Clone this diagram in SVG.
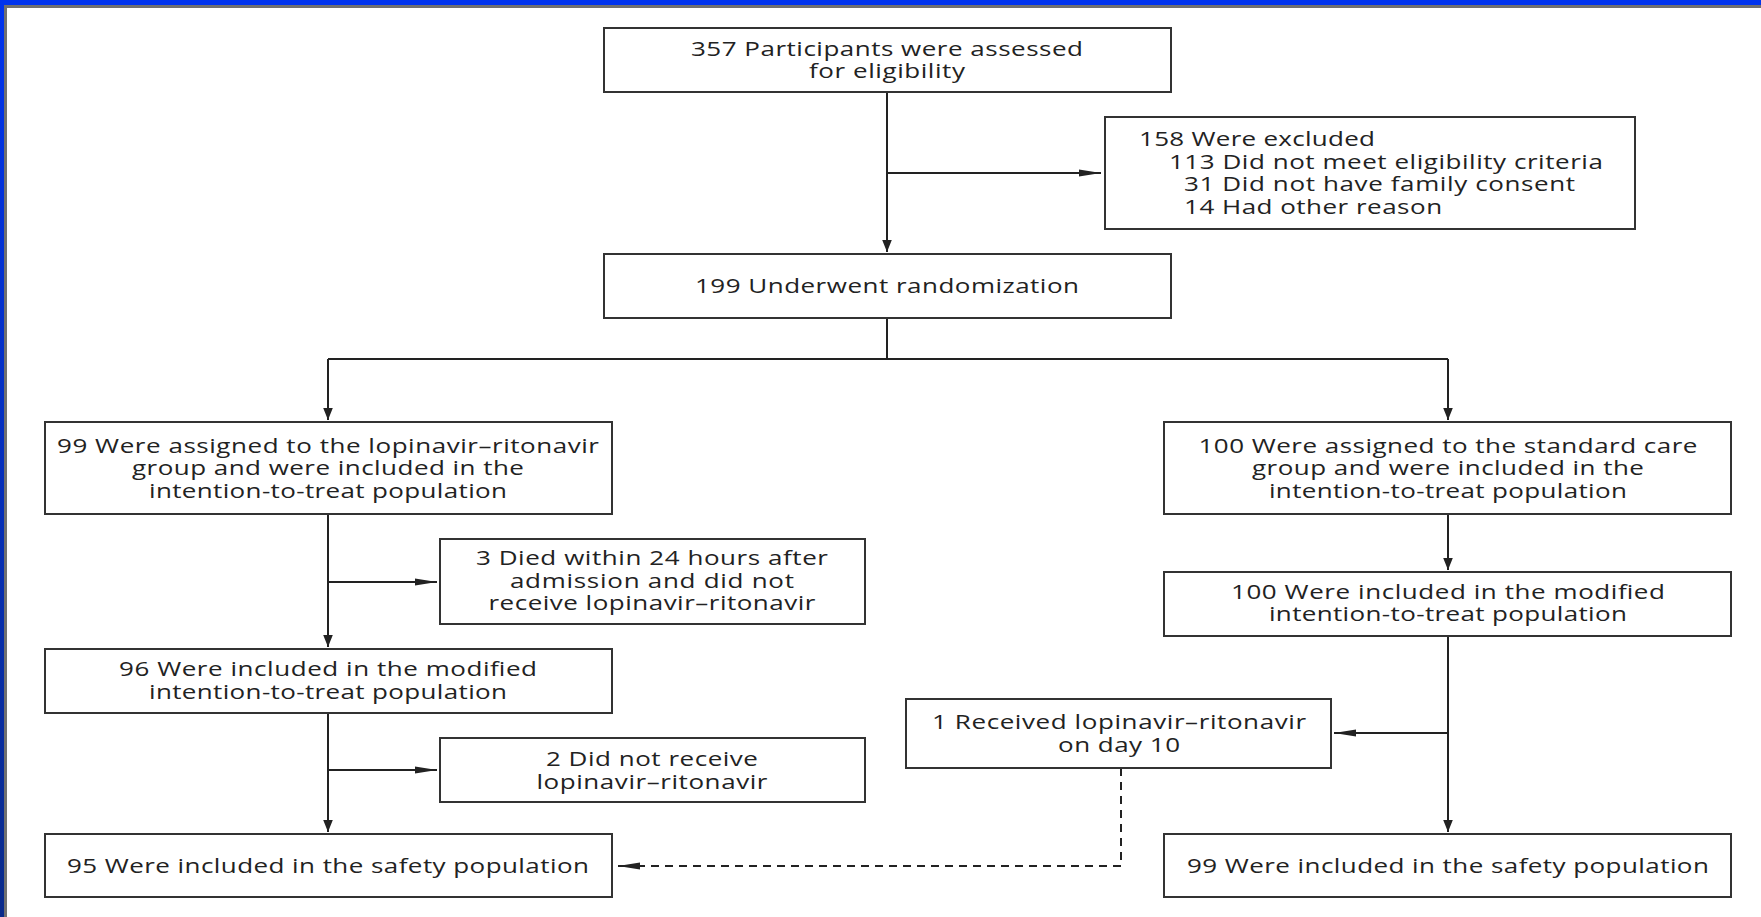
<svg xmlns="http://www.w3.org/2000/svg" width="1761" height="917" viewBox="0 0 1761 917">
<defs>
<style>
.box{fill:#fff;stroke:#333;stroke-width:2}
.t{font-family:"Open Sans","Noto Sans","Liberation Sans",sans-serif;font-size:20px;fill:#222}
.c{text-anchor:middle}
.ln{fill:none;stroke:#222;stroke-width:2}
.dash{fill:none;stroke:#222;stroke-width:2;stroke-dasharray:8,6}
</style>
<marker id="ah" viewBox="0 0 10 10" refX="10" refY="5" markerWidth="12" markerHeight="12" markerUnits="userSpaceOnUse" orient="auto"><path d="M0,1 L10,5 L0,9 z" fill="#222"/></marker>
<marker id="ah2" viewBox="0 0 10 10" refX="10" refY="5" markerWidth="22" markerHeight="10" markerUnits="userSpaceOnUse" orient="auto" preserveAspectRatio="none"><path d="M0,1.5 L10,5 L0,8.5 z" fill="#222"/></marker>
<linearGradient id="lb" x1="0" y1="0" x2="0" y2="1"><stop offset="0" stop-color="#0033ee"/><stop offset="1" stop-color="#0a2a8a"/></linearGradient>
</defs>
<rect x="0" y="0" width="1761" height="917" fill="#fff"/>
<rect x="0" y="5" width="1761" height="3" fill="#707070"/>
<rect x="4" y="5" width="3" height="912" fill="#707070"/>
<rect x="0" y="0" width="1761" height="5" fill="#0033ee"/>
<rect x="0" y="0" width="4" height="917" fill="url(#lb)"/>
<g id="connectors">
<line class="ln" x1="887" y1="92" x2="887" y2="252" marker-end="url(#ah)"/>
<line class="ln" x1="887" y1="173" x2="1101" y2="173" marker-end="url(#ah2)"/>
<polyline class="ln" points="887,318 887,359"/>
<polyline class="ln" points="328,359 1448,359"/>
<line class="ln" x1="328" y1="359" x2="328" y2="420" marker-end="url(#ah)"/>
<line class="ln" x1="1448" y1="359" x2="1448" y2="420" marker-end="url(#ah)"/>
<line class="ln" x1="328" y1="514" x2="328" y2="647" marker-end="url(#ah)"/>
<line class="ln" x1="328" y1="582" x2="437" y2="582" marker-end="url(#ah2)"/>
<line class="ln" x1="328" y1="713" x2="328" y2="832" marker-end="url(#ah)"/>
<line class="ln" x1="328" y1="770" x2="437" y2="770" marker-end="url(#ah2)"/>
<line class="ln" x1="1448" y1="514" x2="1448" y2="570" marker-end="url(#ah)"/>
<line class="ln" x1="1448" y1="636" x2="1448" y2="832" marker-end="url(#ah)"/>
<line class="ln" x1="1448" y1="733" x2="1334" y2="733" marker-end="url(#ah2)"/>
<polyline class="dash" points="1121,768 1121,866 640,866"/>
<line class="ln" x1="640" y1="866" x2="618" y2="866" marker-end="url(#ah2)"/>
</g>
<g id="n_assessed"><rect class="box" x="604" y="28" width="567" height="64"/>
<text class="t c" transform="scale(1.3 1)" x="682.3" y="56" textLength="301.5" lengthAdjust="spacing">357 Participants were assessed</text>
<text class="t c" transform="scale(1.3 1)" x="682.3" y="78" textLength="120" lengthAdjust="spacing">for eligibility</text></g>
<g id="n_excluded"><rect class="box" x="1105" y="117" width="530" height="112"/>
<text class="t" transform="scale(1.3 1)" x="876.2" y="146" textLength="181.5" lengthAdjust="spacing">158 Were excluded</text>
<text class="t" transform="scale(1.3 1)" x="899.2" y="169" textLength="333.8" lengthAdjust="spacing">113 Did not meet eligibility criteria</text>
<text class="t" transform="scale(1.3 1)" x="910.8" y="191" textLength="300.8" lengthAdjust="spacing">31 Did not have family consent</text>
<text class="t" transform="scale(1.3 1)" x="910.8" y="214" textLength="198.5" lengthAdjust="spacing">14 Had other reason</text></g>
<g id="n_random"><rect class="box" x="604" y="254" width="567" height="64"/>
<text class="t c" transform="scale(1.3 1)" x="682.3" y="293" textLength="295.4" lengthAdjust="spacing">199 Underwent randomization</text></g>
<g id="n_lpv_itt"><rect class="box" x="45" y="422" width="567" height="92"/>
<text class="t c" transform="scale(1.3 1)" x="252.3" y="453" textLength="416.9" lengthAdjust="spacing">99 Were assigned to the lopinavir–ritonavir</text>
<text class="t c" transform="scale(1.3 1)" x="252.3" y="475" textLength="301.5" lengthAdjust="spacing">group and were included in the</text>
<text class="t c" transform="scale(1.3 1)" x="252.3" y="498" textLength="275.4" lengthAdjust="spacing">intention-to-treat population</text></g>
<g id="n_std_itt"><rect class="box" x="1164" y="422" width="567" height="92"/>
<text class="t c" transform="scale(1.3 1)" x="1113.8" y="453" textLength="383.8" lengthAdjust="spacing">100 Were assigned to the standard care</text>
<text class="t c" transform="scale(1.3 1)" x="1113.8" y="475" textLength="301.5" lengthAdjust="spacing">group and were included in the</text>
<text class="t c" transform="scale(1.3 1)" x="1113.8" y="498" textLength="275.4" lengthAdjust="spacing">intention-to-treat population</text></g>
<g id="n_died"><rect class="box" x="440" y="539" width="425" height="85"/>
<text class="t c" transform="scale(1.3 1)" x="501.5" y="565" textLength="270.8" lengthAdjust="spacing">3 Died within 24 hours after</text>
<text class="t c" transform="scale(1.3 1)" x="501.5" y="588" textLength="218.5" lengthAdjust="spacing">admission and did not</text>
<text class="t c" transform="scale(1.3 1)" x="501.5" y="610" textLength="251.5" lengthAdjust="spacing">receive lopinavir–ritonavir</text></g>
<g id="n_lpv_mitt"><rect class="box" x="45" y="649" width="567" height="64"/>
<text class="t c" transform="scale(1.3 1)" x="252.3" y="676" textLength="321.5" lengthAdjust="spacing">96 Were included in the modified</text>
<text class="t c" transform="scale(1.3 1)" x="252.3" y="699" textLength="275.4" lengthAdjust="spacing">intention-to-treat population</text></g>
<g id="n_std_mitt"><rect class="box" x="1164" y="572" width="567" height="64"/>
<text class="t c" transform="scale(1.3 1)" x="1113.8" y="599" textLength="333.8" lengthAdjust="spacing">100 Were included in the modified</text>
<text class="t c" transform="scale(1.3 1)" x="1113.8" y="621" textLength="275.4" lengthAdjust="spacing">intention-to-treat population</text></g>
<g id="n_notrecv"><rect class="box" x="440" y="738" width="425" height="64"/>
<text class="t c" transform="scale(1.3 1)" x="501.5" y="766" textLength="163.1" lengthAdjust="spacing">2 Did not receive</text>
<text class="t c" transform="scale(1.3 1)" x="501.5" y="789" textLength="177.7" lengthAdjust="spacing">lopinavir–ritonavir</text></g>
<g id="n_recv10"><rect class="box" x="906" y="699" width="425" height="69"/>
<text class="t c" transform="scale(1.3 1)" x="860.8" y="729" textLength="287.7" lengthAdjust="spacing">1 Received lopinavir–ritonavir</text>
<text class="t c" transform="scale(1.3 1)" x="860.8" y="752" textLength="93.8" lengthAdjust="spacing">on day 10</text></g>
<g id="n_lpv_safety"><rect class="box" x="45" y="834" width="567" height="63"/>
<text class="t c" transform="scale(1.3 1)" x="252.3" y="873" textLength="401.5" lengthAdjust="spacing">95 Were included in the safety population</text></g>
<g id="n_std_safety"><rect class="box" x="1164" y="834" width="567" height="63"/>
<text class="t c" transform="scale(1.3 1)" x="1113.8" y="873" textLength="401.5" lengthAdjust="spacing">99 Were included in the safety population</text></g>
</svg>
